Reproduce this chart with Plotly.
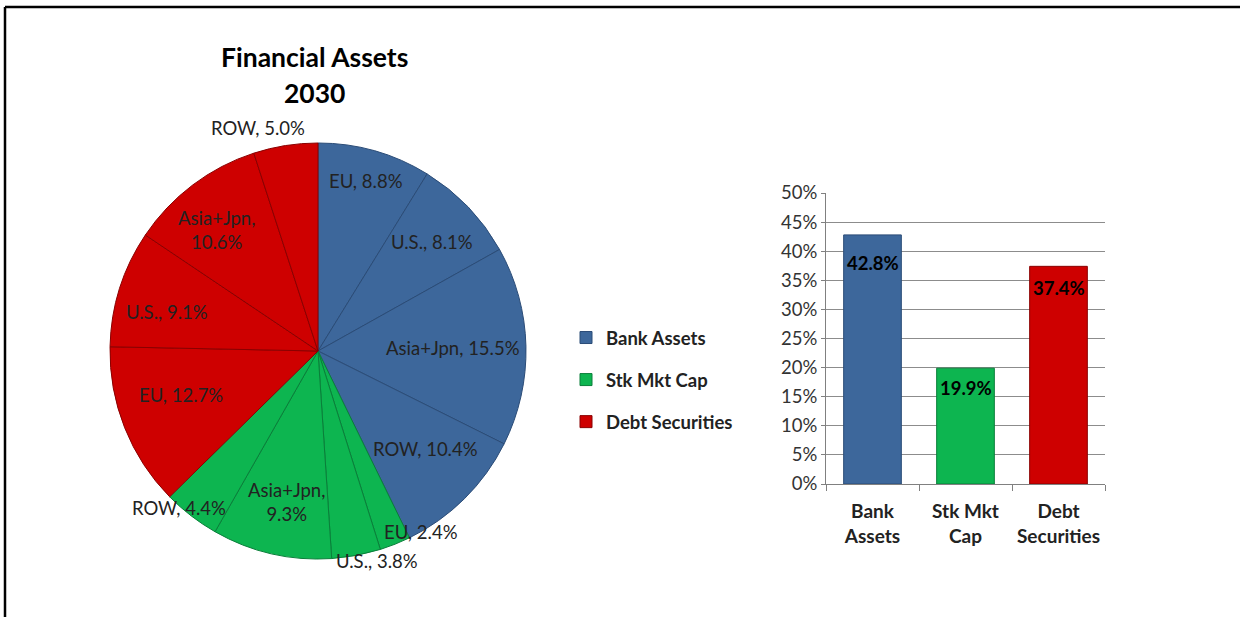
import math
import plotly.graph_objects as go

# ---- data ----
regions = ["EU", "U.S.", "Asia+Jpn", "ROW"]
bank_vals = [8.8, 8.1, 15.5, 10.4]
stk_vals = [2.4, 3.8, 9.3, 4.4]
debt_vals = [12.7, 9.1, 10.6, 5.0]
categories = ["Bank Assets", "Stk Mkt Cap", "Debt Securities"]
cat_ticktext = ["Bank<br>Assets", "Stk Mkt<br>Cap", "Debt<br>Securities"]
totals = [42.8, 19.9, 37.4]
y_ticks = [0, 5, 10, 15, 20, 25, 30, 35, 40, 45, 50]

# ---- styles ----
BLUE, GREEN, RED = "#3D679B", "#0DB550", "#CE0000"
BLUE_L, GREEN_L, RED_L = "#2B4C77", "#0A7F3A", "#8A0000"
FONT = "Lato"
W, H = 1240, 617
PCX, PCY, PR = 318, 351, 208          # pie centre / radius in pixels
# label placement per slice: (radius fraction, angle nudge in degrees, line break)
label_style = [
    (0.85, 0, False), (0.76, 0, False), (0.65, 0, False), (0.70, -3, False),
    (1.00, -8, False), (1.05, -5, False), (0.74, -1, True), (1.01, 4, False),
    (0.69, 4, False), (0.75, -3, False), (0.76, -3, True), (1.11, -6, False),
]
bar_label_shift = [-28, -20, -22]

pie_values = bank_vals + stk_vals + debt_vals
pie_keys = [f"{g}-{r}" for g in ("bank", "stk", "debt") for r in regions]
pie_text = regions * 3
pie_colors = [BLUE] * 4 + [GREEN] * 4 + [RED] * 4
pie_lines = [BLUE_L] * 4 + [GREEN_L] * 4 + [RED_L] * 4

fig = go.Figure()
fig.add_trace(go.Pie(
    labels=pie_keys, values=pie_values, text=pie_text,
    textinfo="none",
    sort=False, direction="clockwise", rotation=0,
    marker=dict(colors=pie_colors, line=dict(color=pie_lines, width=1)),
    showlegend=False,
    hovertemplate="%{text}, %{value:.1f}%<extra></extra>",
    domain=dict(x=[(PCX - PR) / W, (PCX + PR) / W],
                y=[1 - (PCY + PR) / H, 1 - (PCY - PR) / H]),
))

annotations = []
total = sum(pie_values)
cum = 0.0
for val, name, (rf, nudge, br) in zip(pie_values, pie_text, label_style):
    mid = (cum + val / 2) / total * 360 + nudge
    cum += val
    px = PCX + math.sin(math.radians(mid)) * PR * rf
    py = PCY - math.cos(math.radians(mid)) * PR * rf
    sep = ",<br>" if br else ", "
    annotations.append(dict(
        text=f"{name}{sep}{val:.1f}%", x=px / W, y=1 - py / H,
        xref="paper", yref="paper", showarrow=False, xanchor="center", yanchor="middle",
        font=dict(family=FONT, size=18.5, color="#222222"), align="center",
    ))

annotations += [
    dict(text="<b>Financial Assets</b>", x=314 / W, y=1 - 57 / H, xref="paper", yref="paper",
         showarrow=False, font=dict(family=FONT, size=26.5, color="black"),
         xanchor="center", yanchor="middle"),
    dict(text="<b>2030</b>", x=314 / W, y=1 - 93 / H, xref="paper", yref="paper",
         showarrow=False, font=dict(family=FONT, size=26.5, color="black"),
         xanchor="center", yanchor="middle"),
]

bar_colors = [BLUE, GREEN, RED]
bar_lines = [BLUE_L, GREEN_L, RED_L]
for i, cat in enumerate(categories):
    fig.add_trace(go.Bar(
        x=[cat], y=[totals[i]], name=cat,
        legendgroup=cat,
        marker=dict(color=bar_colors[i], line=dict(color=bar_lines[i], width=1)),
        hovertemplate="%{x}: %{y:.1f}%<extra></extra>",
        xaxis="x", yaxis="y",
    ))
    annotations.append(dict(
        text=f"<b>{totals[i]:.1f}%</b>", x=cat, y=totals[i], xref="x", yref="y",
        showarrow=False, yanchor="middle", yshift=bar_label_shift[i],
        font=dict(family=FONT, size=18.5, color="black"),
    ))

fig.update_layout(
    width=W, height=H,
    margin=dict(l=0, r=0, t=0, b=0, autoexpand=False),
    paper_bgcolor="white", plot_bgcolor="white",
    font=dict(family=FONT, size=18, color="#222222"),
    barmode="relative", bargap=0.38,
    annotations=annotations,
    xaxis=dict(
        domain=[826 / W, 1105 / W], categoryorder="array", categoryarray=categories,
        tickvals=categories, ticktext=cat_ticktext, tickson="boundaries",
        ticks="outside", ticklen=6, tickcolor="#808080", tickangle=0,
        ticklabelstandoff=10,
        showline=True, linecolor="#808080", linewidth=1,
        tickfont=dict(family=FONT, size=19, color="#222222", weight="bold"),
        anchor="y", automargin=False,
    ),
    yaxis=dict(
        domain=[133 / H, 424 / H], range=[0, 50],
        tickvals=y_ticks, ticktext=[f"{v}%" for v in y_ticks],
        ticks="outside", ticklen=4, tickcolor="#808080",
        showgrid=True, gridcolor="#8C8C8C", gridwidth=1,
        showline=True, linecolor="#808080", zeroline=False,
        tickfont=dict(family=FONT, size=18.5, color="#333333"),
        anchor="x", automargin=False,
    ),
    legend=dict(
        x=566 / W, y=1 - 380 / H, xanchor="left", yanchor="middle",
        font=dict(family=FONT, size=18.5, color="#222222", weight="bold"),
        tracegroupgap=15, itemwidth=30, bgcolor="rgba(0,0,0,0)",
    ),
    shapes=[
        dict(type="line", xref="paper", yref="paper", x0=5 / W, x1=1, y0=1 - 7 / H, y1=1 - 7 / H,
             line=dict(color="black", width=2.5)),
        dict(type="line", xref="paper", yref="paper", x0=5 / W, x1=5 / W, y0=0, y1=1 - 7 / H,
             line=dict(color="black", width=2.5)),
    ],
)

fig.write_html("out.html", config={"displayModeBar": False},
               post_script="document.body.style.margin='0';document.body.style.overflow='hidden';")
